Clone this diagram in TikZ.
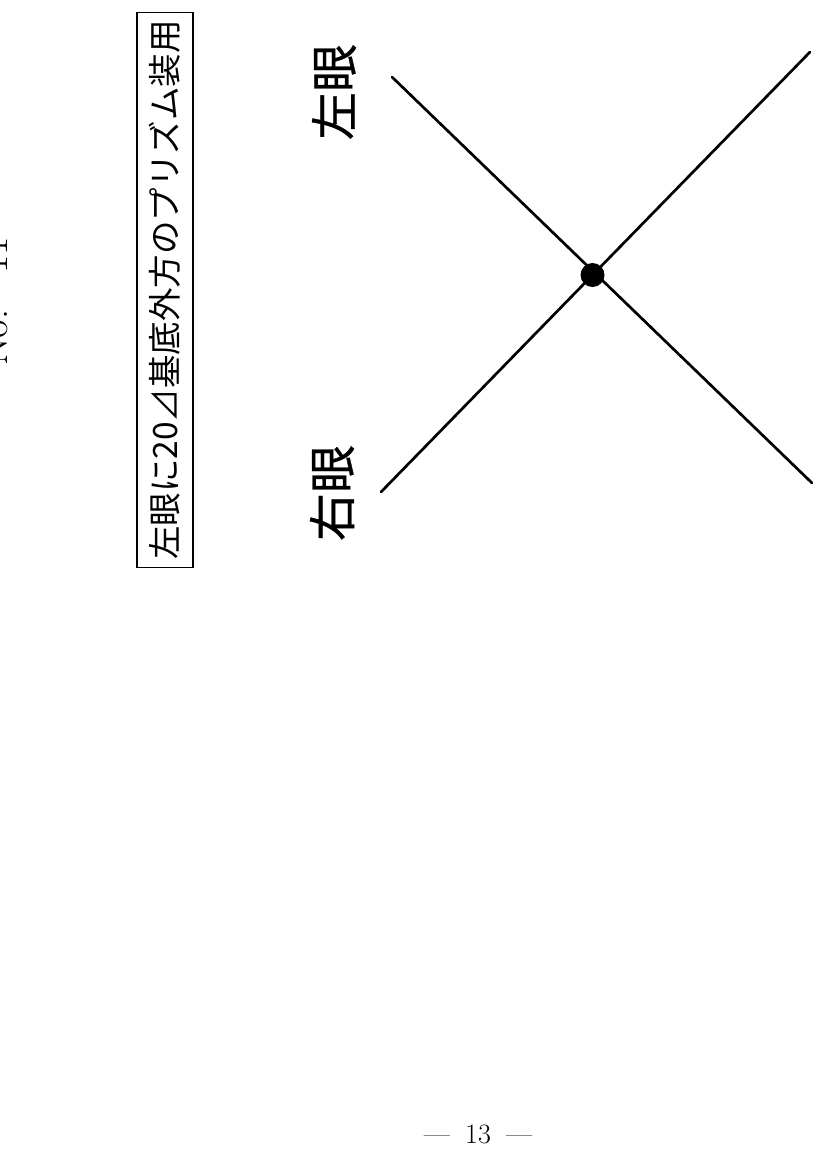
\documentclass[tikz,border=0pt]{standalone}
\usepackage{fontspec}
\newfontfamily\jp{Noto Sans CJK JP}
\newfontfamily\jpheavy[FakeBold=0.6]{Noto Sans CJK JP}
\begin{document}
\begin{tikzpicture}[x=1pt,y=-1pt,
  crossline/.style={line width=2.7pt,line cap=round},
  titlebox/.style={draw,line width=1.3pt,rotate=90,minimum width=555pt,minimum height=56pt,inner sep=0pt,
    font=\jp\fontsize{33.5}{36}\selectfont},
  eyelabel/.style={rotate=90,inner sep=0pt,font=\jpheavy\fontsize{48}{50}\selectfont},
  centerdot/.style={circle,fill=black,minimum size=24pt,inner sep=0pt}]
\useasboundingbox (0,0) rectangle (817,1156);
\fill[white] (0,0) rectangle (817,1156);
% page number header, cut at the left edge as in the scan
\node[rotate=90,anchor=base west,inner sep=0pt,font=\fontsize{40}{40}\selectfont] (pageno) at (7,366) {No.\hspace{0.9em}11};
% title box
\node[titlebox] (title) at (165,290) {左眼に20⊿基底外方のプリズム装用};
% eye labels
\node[eyelabel] (lefteye) at (334,92) {左眼};
\node[eyelabel] (righteye) at (332,493) {右眼};
% cross
\coordinate (a1) at (392,77);
\coordinate (a2) at (812,483);
\coordinate (b1) at (381,492);
\coordinate (b2) at (810,52);
\draw[crossline] (a1) -- (a2);
\draw[crossline] (b1) -- (b2);
\node[centerdot] (meet) at (592.5,275) {};
% page footer
\node[anchor=base,inner sep=0pt,font=\fontsize{28}{28}\selectfont] (footer) at (478,1143) {---\hspace{0.55em}13\hspace{0.55em}---};
\end{tikzpicture}
\end{document}
